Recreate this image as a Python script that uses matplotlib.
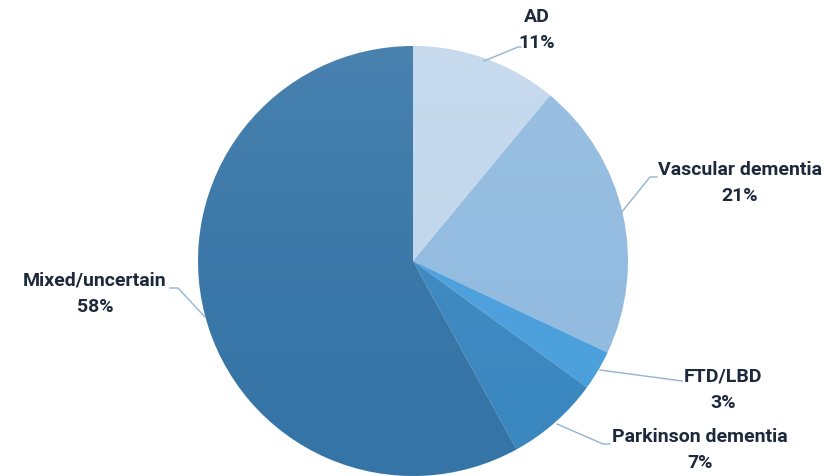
import matplotlib.pyplot as plt
import numpy as np
from matplotlib.patches import Circle, Wedge

# dementia type shares (%), drawn clockwise from 12 o'clock
categories = ["AD", "Vascular dementia", "FTD/LBD", "Parkinson dementia", "Mixed/uncertain"]
shares = [11, 21, 3, 7, 58]
colors = ["#c1d6ec", "#90badf", "#4a9fdc", "#3a87bf", "#3574a6"]

# label text anchors and leader lines (pixel coords, y measured from top)
label_pos = [(537, 30), (740, 183), (723, 390), (700, 450), (95, 294)]
leaders = [
    [(484, 62), (518, 48), (521, 48)],
    [(621, 214), (650, 178), (657, 178)],
    [(600, 371), (682, 382)],
    [(557, 425), (603, 445), (610, 445)],
    [(205, 318), (178, 289), (170, 289)],
]

W, H = 830, 477
cx, cy, r = 413, 262, 215

fig = plt.figure(figsize=(W / 100, H / 100), dpi=100)
ax = fig.add_axes([0, 0, 1, 1])
ax.set_xlim(0, W)
ax.set_ylim(H, 0)
ax.axis("off")

# wedges go clockwise in screen space since y axis is flipped
theta = -90.0
for share, col in zip(shares, colors):
    span = share / 100 * 360
    ax.add_patch(Wedge((cx, cy), r, theta, theta + span, facecolor=col, edgecolor="none"))
    theta += span

# soft top-down light sheen over the pie
grad = np.linspace(1, 0, 256).reshape(-1, 1) ** 1.5
rgba = np.ones((256, 1, 4))
rgba[..., 3] = grad * 0.1
img = ax.imshow(rgba, extent=(cx - r, cx + r, cy + r, cy - r), aspect="auto", zorder=3)
img.set_clip_path(Circle((cx, cy), r, transform=ax.transData))

for pts in leaders:
    xs, ys = zip(*pts)
    ax.plot(xs, ys, color="#93b3d3", lw=1.0, zorder=4)

txt_kw = dict(ha="center", va="center", fontsize=14, fontweight="bold",
              color="#1e2a3c", family="Roboto", linespacing=1.6)
for name, share, (x, y) in zip(categories, shares, label_pos):
    ax.text(x, y, f"{name}\n{share}%", **txt_kw)

fig.savefig("out.png", dpi=100)
